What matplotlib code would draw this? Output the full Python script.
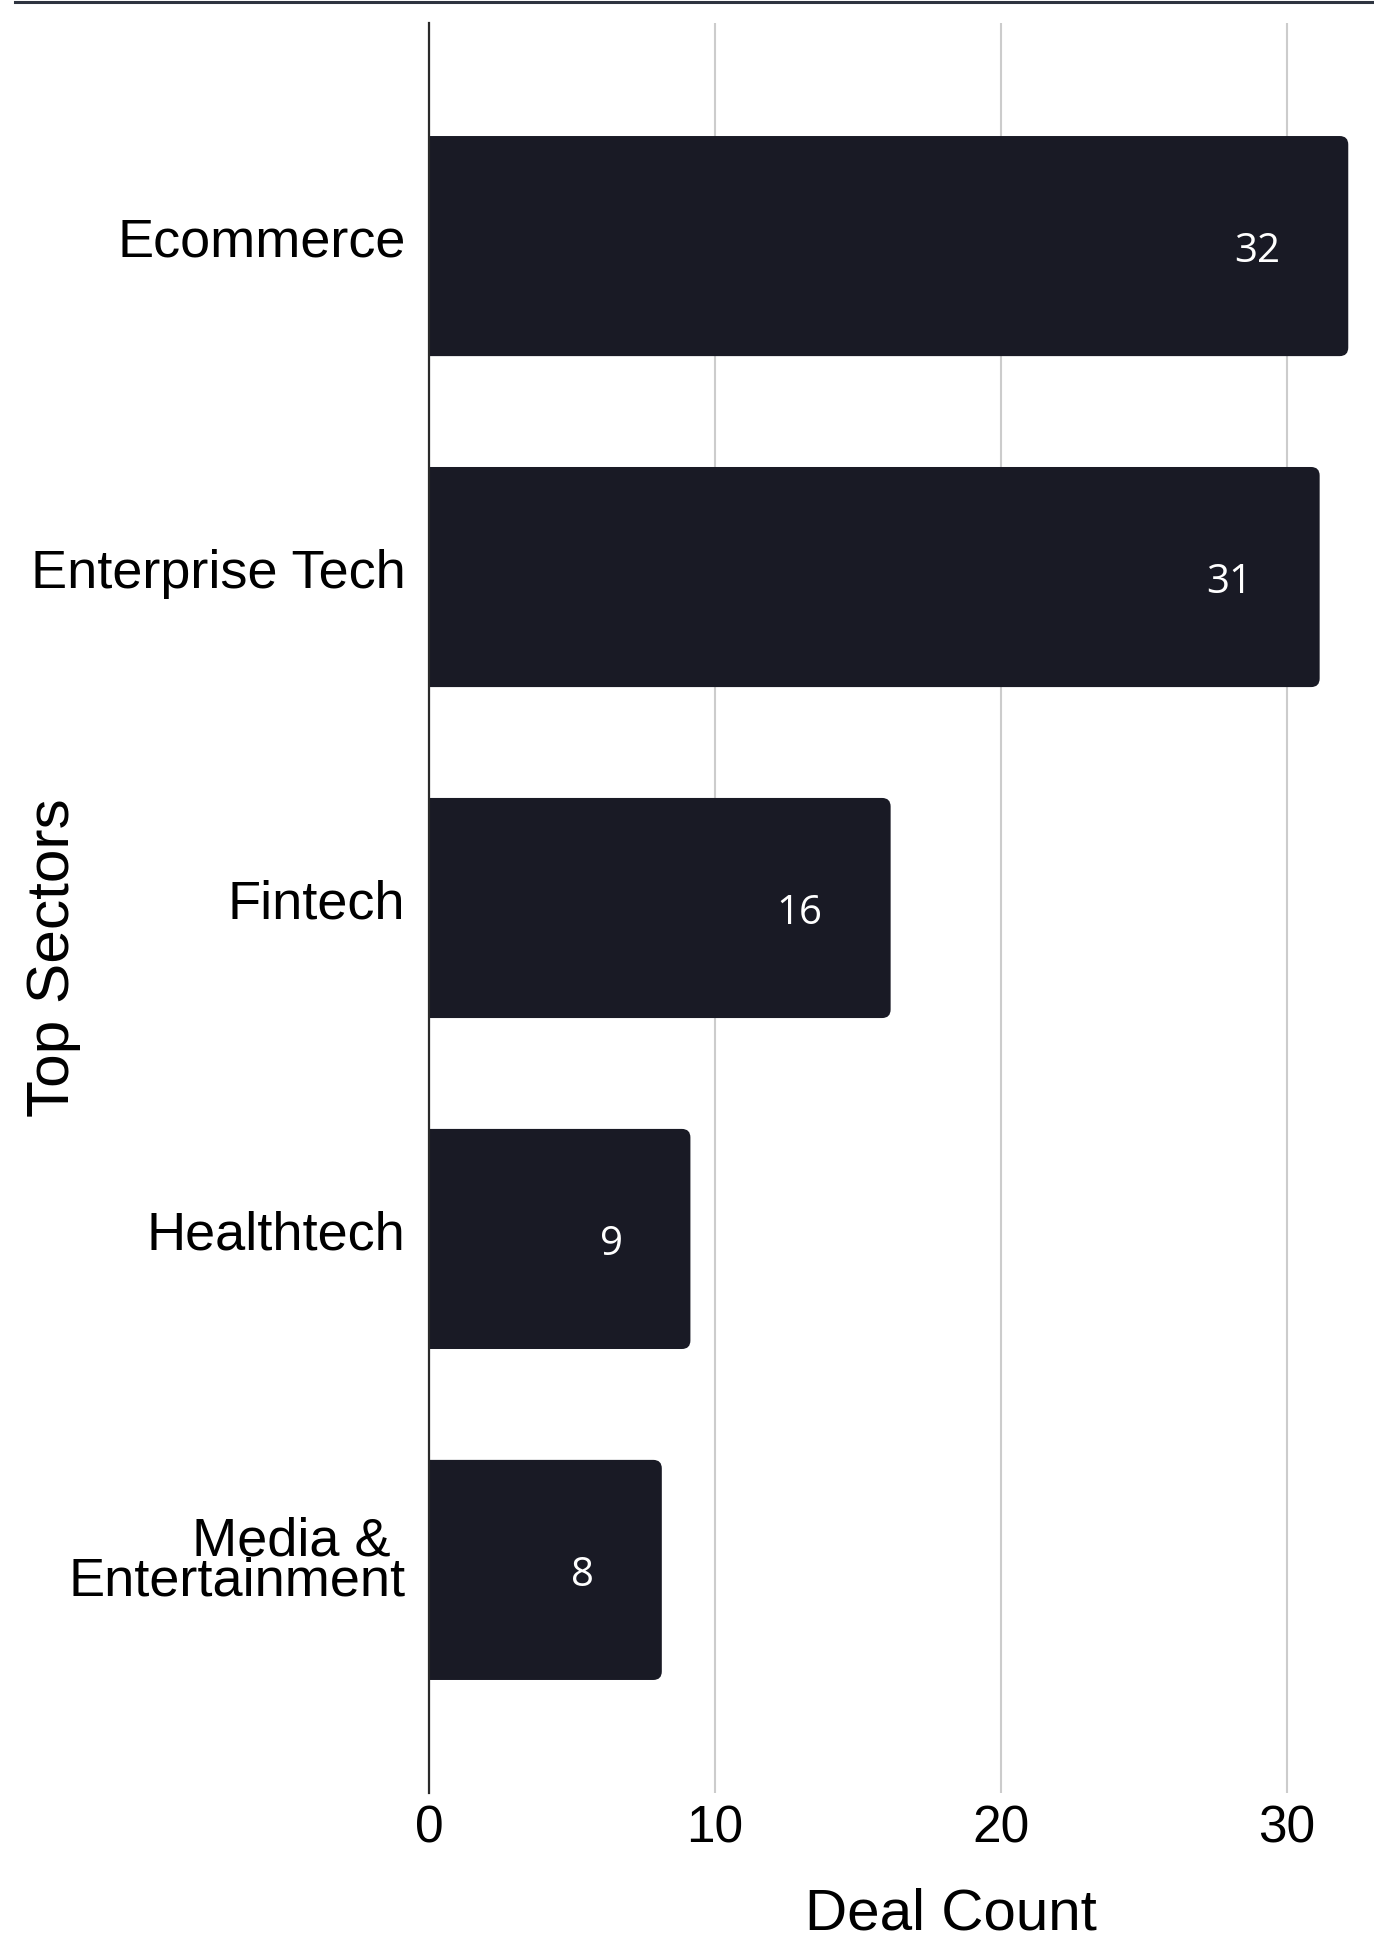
import matplotlib.pyplot as plt
from matplotlib.patches import FancyBboxPatch
from matplotlib.lines import Line2D
from matplotlib.transforms import ScaledTranslation

# Data
sectors = ["Ecommerce", "Enterprise Tech", "Fintech", "Healthtech", "Media & \nEntertainment"]
deal_counts = [32, 31, 16, 9, 8]
x_ticks = [0, 10, 20, 30]

bar_color = "#191a25"
W, H = 1374, 1938

fig = plt.figure(figsize=(W / 100, H / 100), dpi=100)
fig.patch.set_facecolor("white")

# axes placed in pixel terms of the reference
left, right, top, bottom = 429, 1374, 23, 1793
ax = fig.add_axes([left / W, (H - bottom) / H, (right - left) / W, (bottom - top) / H])

ypos = list(range(len(sectors)))
bars = ax.barh(ypos, deal_counts, height=0.665, color="none")

ax.set_xlim(0, 33.04)
ax.set_ylim(len(sectors) - 0.326, -0.674)

# rounded right corners: redraw each bar as a fancy box
aspect = (945 / 33.04) / (1770 / 5.348)
for b in bars:
    x0, y0 = b.get_x(), b.get_y()
    w, h = b.get_width(), b.get_height()
    p = FancyBboxPatch((x0 - 1, y0), w + 1.14, h,
                       boxstyle="round,pad=0,rounding_size=0.3",
                       mutation_aspect=aspect,
                       facecolor=bar_color, edgecolor="none", zorder=2)
    ax.add_patch(p)

# value labels inside bars
for y, v in zip(ypos, deal_counts):
    ax.annotate(str(v), xy=(v, y), xytext=(-46, -4), textcoords="offset points",
                ha="right", va="center", color="white", fontsize=29,
                family="Open Sans", zorder=3)

# gridlines and spines
ax.set_xticks(x_ticks)
ax.grid(axis="x", color="#cccccc", linewidth=1.5, zorder=0)
ax.set_axisbelow(True)
for s in ["top", "right", "bottom"]:
    ax.spines[s].set_visible(False)
ax.spines["left"].set_color("#2a2a2a")
ax.spines["left"].set_linewidth(1.6)
ax.spines["left"].set_zorder(4)

ax.tick_params(axis="both", length=0)
ax.tick_params(axis="x", labelsize=37, pad=8)
ax.set_yticks(ypos)
ax.set_yticklabels(sectors, fontsize=39, family="Liberation Sans")
ax.tick_params(axis="y", pad=17)
for lbl in ax.get_xticklabels():
    lbl.set_family("Liberation Sans")
shift = ScaledTranslation(0, 6.5 / 72, fig.dpi_scale_trans)
for lbl in ax.get_yticklabels():
    lbl.set_transform(lbl.get_transform() + shift)
last = ax.get_yticklabels()[-1]
last.set_linespacing(0.75)
last.set_multialignment("right")

ax.set_xlabel("Deal Count", fontsize=42, family="Liberation Sans", va="baseline")
ax.xaxis.set_label_coords((951 - left) / (right - left), (bottom - 1930) / (bottom - top))
ax.set_ylabel("Top Sectors", fontsize=43.5, family="Liberation Sans", va="center", ha="center")
ax.yaxis.set_label_coords((54 - left) / (right - left), (bottom - 958) / (bottom - top))

# dark rule along the top
fig.add_artist(Line2D([15 / W, 1.0], [1 - 1.5 / H, 1 - 1.5 / H], color="#2e3440",
                      linewidth=2.2, transform=fig.transFigure))

fig.savefig("out.png", dpi=100)
